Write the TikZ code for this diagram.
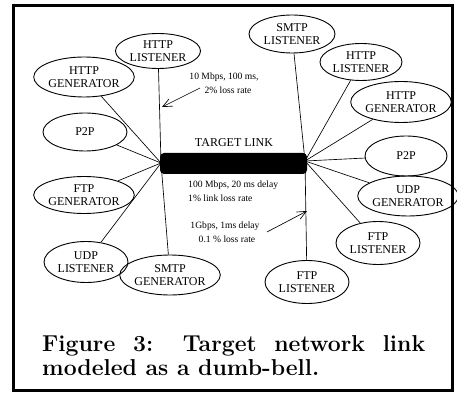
\documentclass[tikz,border=0pt]{standalone}
\usepackage{fontspec}
\newfontfamily\timesfont{Liberation Serif}
\usetikzlibrary{shapes.geometric,arrows.meta}

\begin{document}
\begin{tikzpicture}[x=1pt,y=-1pt,
  host/.style={draw, ellipse, line width=0.9pt, minimum width=84pt, minimum height=40pt,
    inner sep=0pt, align=center, font=\timesfont\fontsize{12}{13.5}\selectfont},
  wire/.style={line width=0.65pt},
  note/.style={font=\timesfont\fontsize{9.6}{14}\selectfont, inner sep=0pt},
  pointer/.style={line width=0.65pt, -{Straight Barb[length=9pt,width=8pt]}},
  captionfont/.style={font=\fontsize{23}{25}\selectfont\bfseries, inner sep=0pt}
]
\useasboundingbox (0,0) rectangle (457,395);
\draw[line width=3pt] (13.5,5.5) rectangle (452,390.5);

% the bottleneck link
\node[fill=black, rounded corners=4pt, minimum width=147pt, minimum height=21pt, inner sep=0pt]
  (bar) at (233.5,163.5) {};
\node[note, font=\timesfont\fontsize{12}{14}\selectfont] (target) at (234,143) {TARGET LINK};
\coordinate (hubL) at (161,163);
\coordinate (hubR) at (305,161);

% hosts on the left
\node[host, minimum width=85pt, minimum height=35pt] (httpLl) at (158,51) {HTTP\\LISTENER};
\node[host] (httpGl) at (84,77) {HTTP\\GENERATOR};
\node[host, minimum height=38pt] (p2pl) at (85,132) {P2P};
\node[host, minimum width=86pt, minimum height=37pt] (ftpGl) at (84,195) {FTP\\GENERATOR};
\node[host, minimum height=41pt] (udpLl) at (86,262) {UDP\\LISTENER};
\node[host] (smtpGl) at (170,275) {SMTP\\GENERATOR};

% hosts on the right
\node[host, minimum width=86pt, minimum height=38pt] (smtpLr) at (292,34) {SMTP\\LISTENER};
\node[host, minimum width=82pt, minimum height=37pt] (httpLr) at (361,62) {HTTP\\LISTENER};
\node[host, minimum width=80pt, minimum height=41pt] (httpGr) at (401,102) {HTTP\\GENERATOR};
\node[host, minimum width=82pt] (p2pr) at (406,156) {P2P};
\node[host] (udpGr) at (408,196) {UDP\\GENERATOR};
\node[host, minimum height=43pt] (ftpLr) at (378,243) {FTP\\LISTENER};
\node[host, minimum height=43pt] (ftpLb) at (307,282) {FTP\\LISTENER};

% access links
\foreach \h in {httpLl,httpGl,p2pl,ftpGl,udpLl,smtpGl}
  \draw[wire] (\h) -- (hubL);
\foreach \h in {smtpLr,httpLr,httpGr,p2pr,udpGr,ftpLr,ftpLb}
  \draw[wire] (\h) -- (hubR);

% link annotations
\node[note, align=center] (accessL) at (224,83) {10 Mbps, 100 ms,\\\hspace*{8pt}2\% loss rate};
\node[note, align=left, anchor=west] (bottle) at (188,191) {100 Mbps, 20 ms delay\\1\% link loss rate};
\node[note, align=center] (accessR) at (225,232.5) {1Gbps, 1ms delay\\\hspace*{4pt}0.1 \% loss rate};

\coordinate (a1s) at (200,88);
\coordinate (a1e) at (162,107);
\coordinate (a2s) at (267,232);
\coordinate (a2e) at (307,211);
\draw[pointer] (a1s) -- (a1e);
\draw[pointer] (a2s) -- (a2e);

% caption
\node[captionfont, anchor=base west] (capA) at (42,351) {\hbox to 383pt{Figure 3: Target network link}};
\node[captionfont, anchor=base west] (capB) at (42,375) {modeled as a dumb-bell.};
\end{tikzpicture}
\end{document}
